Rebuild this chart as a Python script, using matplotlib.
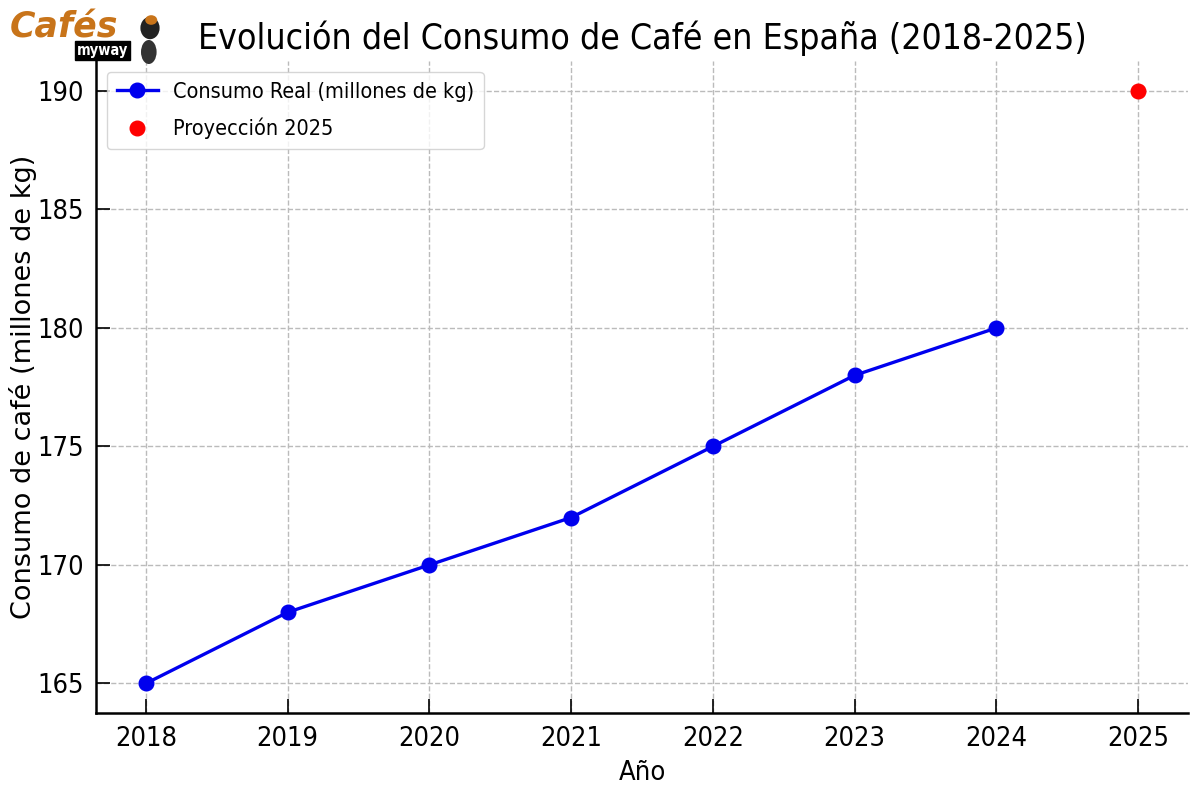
import matplotlib
matplotlib.use("Agg")
import matplotlib.pyplot as plt
from matplotlib.patches import Ellipse, Rectangle

years = [2018, 2019, 2020, 2021, 2022, 2023, 2024]
consumo = [165, 168, 170, 172, 175, 178, 180]
proj_year = [2025]
proj_val = [190]
xticks = [2018, 2019, 2020, 2021, 2022, 2023, 2024, 2025]
yticks = [165, 170, 175, 180, 185, 190]

plt.rcParams["font.family"] = ["DejaVu Sans"]
plt.rcParams["font.stretch"] = "condensed"

fig = plt.figure(figsize=(12, 8), dpi=100)
ax = fig.add_axes([0.0803, 0.10875, 0.9094, 0.8145])

ax.plot(years, consumo, color="#0000ee", marker="o", lw=2.4, ms=10.5,
        label="Consumo Real (millones de kg)")
ax.plot(proj_year, proj_val, "o", color="#ff0000", ms=10.5, label="Proyección 2025")

ax.set_xticks(xticks)
ax.set_yticks(yticks)
ax.tick_params(direction="in", length=10, width=1.2, labelsize=19.5, pad=9)
for lab in ax.get_xticklabels() + ax.get_yticklabels():
    lab.set_fontstretch("condensed")

ax.grid(True, linestyle="--", color="#bbbbbb", lw=1.0)
for s in ["top", "right"]:
    ax.spines[s].set_visible(False)
for s in ["left", "bottom"]:
    ax.spines[s].set_linewidth(1.8)

ax.set_title("Evolución del Consumo de Café en España (2018-2025)", fontsize=25.5,
             pad=9, fontstretch="condensed")
ax.set_xlabel("Año", fontsize=19.5, labelpad=6, fontstretch="condensed")
ax.set_ylabel("Consumo de café (millones de kg)", fontsize=19.5,
              fontstretch="normal")
ax.yaxis.set_label_coords(-0.054, 0.5)

leg = ax.legend(loc="upper left", fontsize=15.5, frameon=True, fancybox=True,
                edgecolor="#cccccc", borderpad=0.45, handlelength=1.9,
                handletextpad=0.7, labelspacing=0.75, borderaxespad=0.5)
for t in leg.get_texts():
    t.set_fontstretch("condensed")

# logo approximation
fig.text(0.008, 0.966, "Cafés", fontsize=25, fontweight="bold", fontstyle="italic",
         color="#c8741a", va="center", ha="left", stretch="normal")
fig.text(0.064, 0.937, "myway", fontsize=10.5, fontweight="bold", color="white",
         va="center", ha="left",
         bbox=dict(boxstyle="square,pad=0.15", fc="black", ec="black"))
fig.patches.append(Ellipse((0.124, 0.935), 0.013, 0.03, transform=fig.transFigure,
                           fc="#333333", ec="none"))
fig.patches.append(Ellipse((0.125, 0.965), 0.016, 0.028, transform=fig.transFigure,
                           fc="#222222", ec="none"))
fig.patches.append(Ellipse((0.126, 0.975), 0.010, 0.012, transform=fig.transFigure,
                           fc="#c8741a", ec="none"))

fig.savefig("out.png", dpi=100)
